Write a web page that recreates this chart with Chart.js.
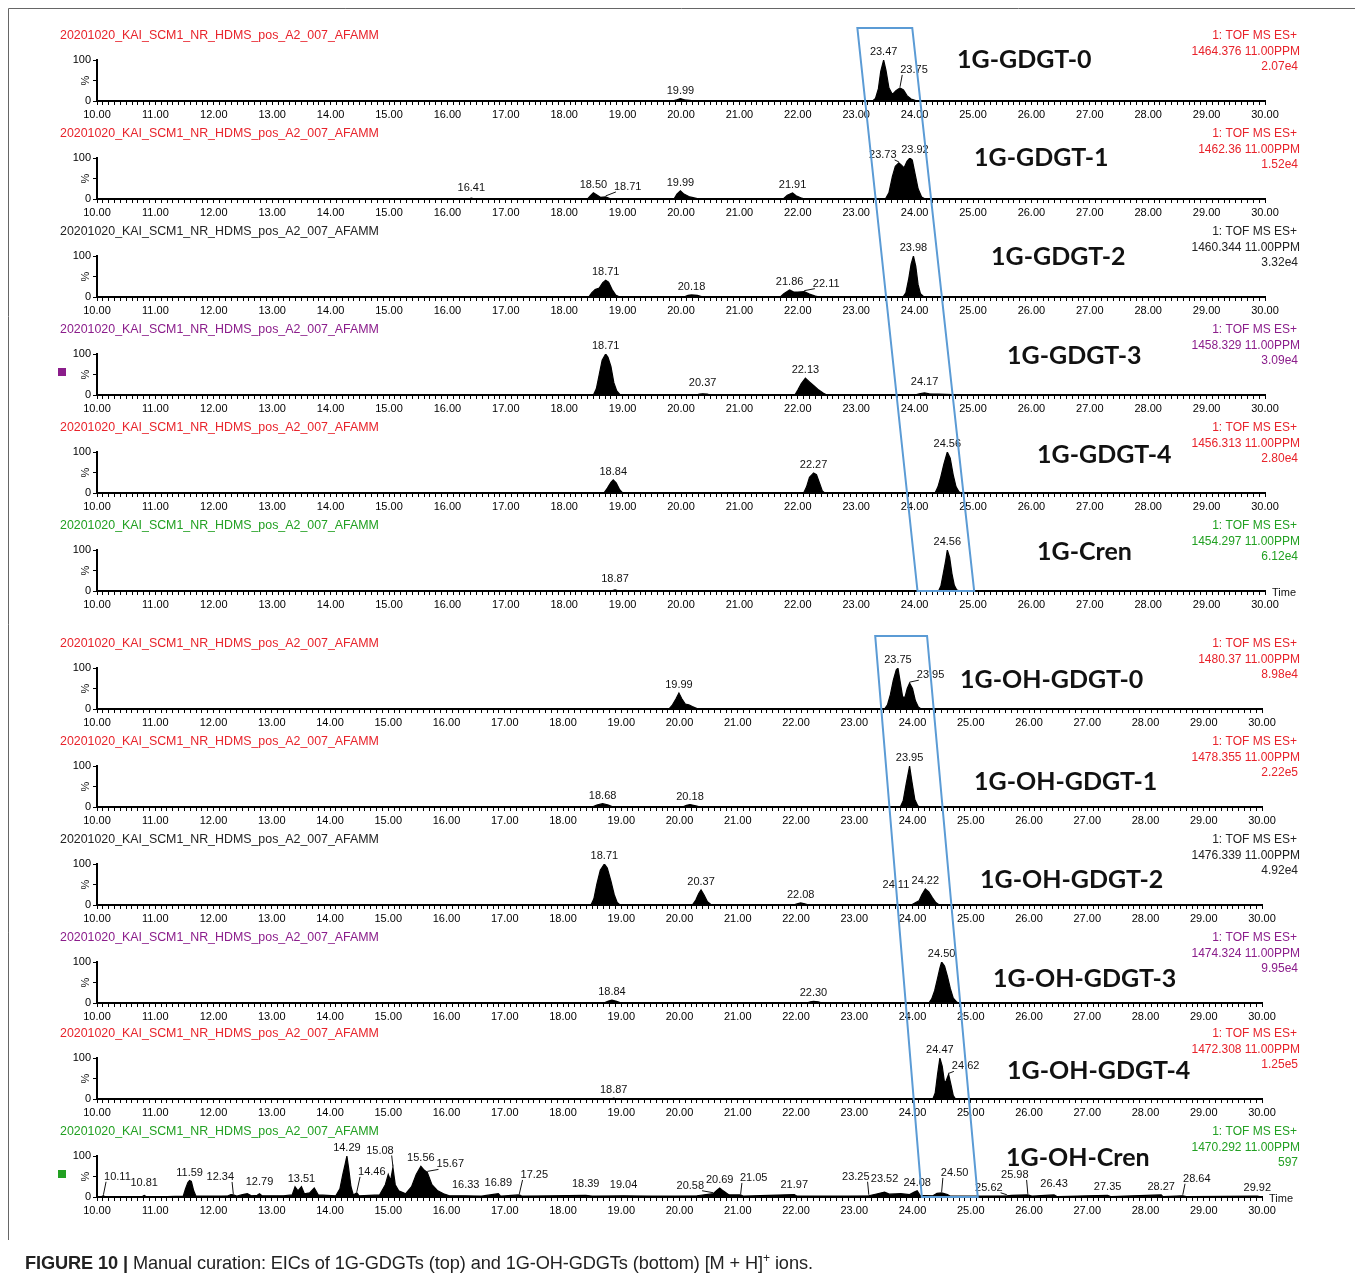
<!DOCTYPE html>
<html><head><meta charset="utf-8">
<script src="https://cdn.jsdelivr.net/npm/chart.js@4/dist/chart.umd.min.js"></script>
<style>
body{margin:0;background:#fff;}
#wrap{position:relative;width:1355px;height:1279px;overflow:hidden;background:#fff;}
canvas.p{position:absolute;left:0;}
#ov{position:absolute;left:0;top:0;pointer-events:none;}
#cap{position:absolute;left:25px;top:1251px;font-family:"Liberation Sans Narrow","Liberation Sans",Arial,sans-serif;font-size:18.2px;color:#222;white-space:nowrap;letter-spacing:-0.1px;}
#cap sup{font-size:12px;}
</style></head>
<body><div id="wrap"><canvas id="ov" width="1355" height="1279"></canvas>
<div id="cap"><b>FIGURE 10 |</b> Manual curation: EICs of 1G-GDGTs (top) and 1G-OH-GDGTs (bottom) [M + H]<sup>+</sup> ions.</div></div>
<script>
// ---------- DATA ----------
const runName = '20201020_KAI_SCM1_NR_HDMS_pos_A2_007_AFAMM';
const compoundNames = ['1G-GDGT-0','1G-GDGT-1','1G-GDGT-2','1G-GDGT-3','1G-GDGT-4','1G-Cren',
  '1G-OH-GDGT-0','1G-OH-GDGT-1','1G-OH-GDGT-2','1G-OH-GDGT-3','1G-OH-GDGT-4','1G-OH-Cren'];
const functionLabel = '1: TOF MS ES+';
const massLabels = ['1464.376 11.00PPM','1462.36 11.00PPM','1460.344 11.00PPM','1458.329 11.00PPM','1456.313 11.00PPM','1454.297 11.00PPM',
  '1480.37 11.00PPM','1478.355 11.00PPM','1476.339 11.00PPM','1474.324 11.00PPM','1472.308 11.00PPM','1470.292 11.00PPM'];
const intensityLabels = ['2.07e4','1.52e4','3.32e4','3.09e4','2.80e4','6.12e4','8.98e4','2.22e5','4.92e4','9.95e4','1.25e5','597'];
const timeRange = [10, 30];

// traces: [retention time (min), relative intensity %]
const gdgt0 = [[10,0],[19.85,0],[19.93,3],[19.99,6],[20.06,3],[20.18,1],[20.3,0],[23.28,0],[23.33,6],[23.38,30],[23.42,72],[23.47,100],[23.51,75],[23.56,32],[23.62,16],[23.68,25],[23.75,32],[23.81,27],[23.87,13],[23.94,5],[24.02,1],[24.1,0],[30,0]];
const gdgt1 = [[10,0],[16.35,0],[16.41,2],[16.47,0],[18.4,0],[18.45,8],[18.5,15],[18.56,10],[18.62,4],[18.71,5],[18.78,1],[18.85,0],[19.88,0],[19.93,12],[19.99,20],[20.05,12],[20.15,5],[20.28,1],[20.35,0],[21.75,0],[21.82,9],[21.91,15],[21.97,8],[22.05,3],[22.12,0],[23.5,0],[23.56,15],[23.62,55],[23.67,80],[23.73,88],[23.78,82],[23.82,76],[23.87,92],[23.92,100],[23.96,95],[24.01,60],[24.06,25],[24.12,5],[24.18,0],[30,0]];
const gdgt2 = [[10,0],[18.42,0],[18.47,10],[18.53,18],[18.6,22],[18.66,35],[18.71,41],[18.76,36],[18.82,18],[18.88,5],[18.95,0],[20.05,0],[20.12,4],[20.18,5],[20.28,4],[20.38,0],[21.7,0],[21.76,8],[21.86,17],[21.93,12],[22.0,12],[22.11,13],[22.2,7],[22.3,2],[22.38,0],[23.8,0],[23.85,10],[23.9,45],[23.94,80],[23.98,100],[24.02,75],[24.06,30],[24.1,8],[24.16,0],[30,0]];
const gdgt3 = [[10,0],[18.5,0],[18.55,15],[18.6,50],[18.65,85],[18.71,100],[18.75,92],[18.8,70],[18.85,30],[18.9,10],[18.96,0],[20.25,0],[20.32,2],[20.37,3],[20.45,2],[20.5,0],[21.95,0],[22.0,12],[22.06,28],[22.13,41],[22.2,32],[22.28,22],[22.36,12],[22.44,4],[22.5,0],[24.0,0],[24.08,3],[24.17,5],[24.25,3],[24.4,2],[24.65,1],[24.7,0],[30,0]];
const gdgt4 = [[10,0],[18.68,0],[18.74,12],[18.8,26],[18.84,32],[18.89,25],[18.95,8],[19.0,0],[22.1,0],[22.15,15],[22.2,38],[22.27,49],[22.32,45],[22.37,25],[22.42,5],[22.46,0],[24.35,0],[24.4,15],[24.45,40],[24.5,70],[24.56,100],[24.61,85],[24.66,45],[24.71,15],[24.76,3],[24.8,0],[30,0]];
const cren = [[10,0],[18.8,0],[18.87,3],[18.94,0],[24.41,0],[24.45,12],[24.49,42],[24.53,72],[24.56,100],[24.6,82],[24.64,42],[24.68,14],[24.72,3],[24.77,0],[30,0]];
const ohGdgt0 = [[10,0],[19.82,0],[19.88,10],[19.94,25],[19.99,39],[20.04,25],[20.1,12],[20.16,10],[20.22,6],[20.3,1],[20.35,0],[23.52,0],[23.57,10],[23.62,35],[23.67,70],[23.72,95],[23.75,100],[23.79,65],[23.83,30],[23.87,28],[23.91,50],[23.95,63],[24.0,50],[24.05,20],[24.1,5],[24.15,0],[30,0]];
const ohGdgt1 = [[10,0],[18.5,0],[18.58,5],[18.68,8],[18.78,5],[18.86,0],[20.05,0],[20.12,4],[20.18,6],[20.28,3],[20.36,0],[23.79,0],[23.84,15],[23.89,55],[23.95,100],[23.99,62],[24.04,18],[24.09,3],[24.13,0],[30,0]];
const ohGdgt2 = [[10,0],[18.48,0],[18.53,15],[18.58,50],[18.64,85],[18.71,100],[18.76,90],[18.82,60],[18.88,25],[18.93,6],[18.98,0],[20.22,0],[20.28,12],[20.33,28],[20.37,37],[20.42,25],[20.48,8],[20.55,0],[21.95,0],[22.02,3],[22.08,5],[22.15,3],[22.22,0],[23.98,0],[24.04,5],[24.11,10],[24.16,25],[24.22,39],[24.28,32],[24.34,18],[24.4,6],[24.46,0],[30,0]];
const ohGdgt3 = [[10,0],[18.7,0],[18.78,5],[18.84,7],[18.92,4],[19.0,0],[22.18,0],[22.25,3],[22.3,4],[22.38,3],[22.45,0],[24.28,0],[24.33,10],[24.38,30],[24.43,60],[24.47,85],[24.5,100],[24.55,90],[24.6,65],[24.65,35],[24.7,12],[24.76,2],[24.8,0],[30,0]];
const ohGdgt4 = [[10,0],[18.82,0],[18.87,2],[18.93,0],[24.35,0],[24.39,15],[24.43,60],[24.47,100],[24.51,80],[24.55,40],[24.58,45],[24.62,60],[24.66,35],[24.7,8],[24.74,0],[30,0]];
const ohCren = [[10,0],[10.08,1],[10.11,3],[10.14,0],[10.5,1],[10.78,1],[10.81,4],[10.84,1],[11.2,1],[11.48,2],[11.52,20],[11.56,35],[11.59,40],[11.62,38],[11.66,15],[11.7,2],[12.0,2],[12.25,3],[12.3,6],[12.34,5],[12.4,2],[12.5,6],[12.58,8],[12.65,3],[12.75,4],[12.79,8],[12.83,3],[13.2,3],[13.35,5],[13.4,25],[13.45,15],[13.51,25],[13.56,8],[13.65,10],[13.73,22],[13.8,5],[14.1,3],[14.17,20],[14.22,55],[14.26,80],[14.29,100],[14.32,70],[14.36,25],[14.4,5],[14.46,10],[14.5,3],[14.85,5],[14.95,30],[15.0,55],[15.04,40],[15.08,72],[15.12,30],[15.18,15],[15.3,8],[15.4,25],[15.48,55],[15.56,75],[15.62,65],[15.67,60],[15.75,30],[15.85,15],[15.95,8],[16.05,3],[16.33,3],[16.6,2],[16.89,8],[16.93,2],[17.25,5],[17.3,2],[17.8,3],[18.39,4],[18.5,2],[19.04,3],[19.5,2],[20.3,3],[20.58,8],[20.63,15],[20.69,22],[20.75,15],[20.85,5],[21.05,5],[21.1,2],[21.97,6],[22.02,2],[22.5,2],[23.25,3],[23.4,8],[23.52,12],[23.6,7],[23.8,8],[23.95,6],[24.03,12],[24.08,15],[24.13,4],[24.35,3],[24.42,9],[24.5,10],[24.6,6],[24.65,2],[25.62,3],[25.7,4],[25.98,5],[26.05,2],[26.43,5],[26.48,1],[27.35,4],[27.4,1],[28.27,5],[28.3,1],[28.64,3],[28.7,1],[29.92,2],[30,0]];
const traces = [gdgt0,gdgt1,gdgt2,gdgt3,gdgt4,cren,ohGdgt0,ohGdgt1,ohGdgt2,ohGdgt3,ohGdgt4,ohCren];

// labelled peak apex times per panel
const peakTimes = [
  [19.99,23.47,23.75],
  [16.41,18.50,18.71,19.99,21.91,23.73,23.92],
  [18.71,20.18,21.86,22.11,23.98],
  [18.71,20.37,22.13,24.17],
  [18.84,22.27,24.56],
  [18.87,24.56],
  [19.99,23.75,23.95],
  [18.68,20.18,23.95],
  [18.71,20.37,22.08,24.11,24.22],
  [18.84,22.30,24.50],
  [18.87,24.47,24.62],
  [10.11,10.81,11.59,12.34,12.79,13.51,14.29,14.46,15.08,15.56,15.67,16.33,16.89,17.25,18.39,19.04,20.58,20.69,21.05,21.97,23.25,23.52,24.08,24.50,25.62,25.98,26.43,27.35,28.27,28.64,29.92]
];
// curation boxes (retention times): [topLeft, topRight, bottomRight, bottomLeft], panels spanned
const curationBoxes = [
  {times:[23.02,23.96,25.02,24.05], from:0, to:5},
  {times:[23.36,24.25,25.12,24.16], from:6, to:11}
];

// ---------- STYLE / LAYOUT ----------
const panelTitleY = [35,133,231,329,427,525,643,741,839,937,1033,1131];
const panelColor = ['#e8232b','#e8232b','#222','#8b1d8b','#e8232b','#22a022','#e8232b','#e8232b','#222','#8b1d8b','#e8232b','#22a022'];
const nameX = [957,974,991,1007,1037,1037,960,974,980,993,1007,1006];
const nameDy = [25,25,26,27,28,27,37,41,41,42,38,27];
const labelNudge = {
 '0|23.75':[14,-10,1],
 '1|16.41':[0,-2],'1|18.71':[22,-2,1],'1|23.73':[-16,0,1],'1|23.92':[5,0],
 '2|22.11':[22,0,1],
 '3|20.37':[0,-3],'3|24.17':[0,-3],
 '5|18.87':[0,-3],
 '6|23.95':[21,0,1],
 '8|24.11':[-23,-8],
 '10|24.62':[17,0,1],
 '11|10.11':[14,-11,1],'11|10.81':[0,-4],'11|12.34':[-13,-10,1],'11|12.79':[0,-4],'11|14.46':[15,-13,1],'11|15.08':[-13,-9,1],
 '11|15.67':[23,0,1],'11|16.33':[0,-3],'11|16.89':[0,-3],'11|17.25':[15,-12,1],'11|18.39':[0,-3],'11|19.04':[0,-3],
 '11|20.58':[-23,0,1],'11|21.05':[13,-9,1],'11|21.97':[0,-2],'11|23.25':[-13,-11,1],'11|23.52':[0,-5],'11|24.50':[13,-12,1],
 '11|25.62':[-18,0,1],'11|25.98':[-13,-12,1],'11|26.43':[0,-3],'11|28.64':[14,-9,1]
};
const FONT = '"Liberation Sans", Arial, sans-serif';
const CANVAS_OFF = 22, CANVAS_H = 112;

function valueAt(tr, t){
  for (let k=1;k<tr.length;k++){
    if (tr[k][0] >= t){
      const a=tr[k-1], b=tr[k];
      if (b[0]===a[0]) return b[1];
      return a[1] + (b[1]-a[1])*(t-a[0])/(b[0]-a[0]);
    }
  }
  return 0;
}

function makePlugin(i){
  return {
    id:'panel'+i,
    afterDraw(chart){
      const ctx = chart.ctx, xs = chart.scales.x, ys = chart.scales.y;
      ctx.save();
      // rotated % on the y axis
      ctx.font = '11px '+FONT; ctx.fillStyle='#111';
      ctx.save(); ctx.translate(chart.chartArea.left-11, ys.getPixelForValue(50)); ctx.rotate(-Math.PI/2);
      ctx.textAlign='center'; ctx.textBaseline='middle'; ctx.fillText('%',0,0); ctx.restore();
      // peak labels
      ctx.strokeStyle='#111'; ctx.lineWidth=1;
      ctx.textAlign='center'; ctx.textBaseline='middle';
      peakTimes[i].forEach(t=>{
        const txt = t.toFixed(2);
        const v = valueAt(traces[i], t);
        const px = xs.getPixelForValue(t), py = ys.getPixelForValue(v);
        const n = labelNudge[i+'|'+txt] || [0,0,0];
        const lx = px + n[0], ly = py - 8 + n[1];
        ctx.fillText(txt, lx, ly);
        if (n[2]){
          const w = ctx.measureText(txt).width;
          const ex = n[0] > 0 ? lx - w/2 + 2 : lx + w/2 - 2;
          ctx.beginPath(); ctx.moveTo(ex, ly+5); ctx.lineTo(px, py-1); ctx.stroke();
        }
      });
      // run name (left) and function/mass/intensity (right)
      ctx.fillStyle = panelColor[i];
      ctx.font = '12.4px '+FONT;
      ctx.textAlign='left'; ctx.fillText(runName, 60, CANVAS_OFF+1);
      ctx.font = '12px '+FONT;
      ctx.textAlign='right';
      ctx.fillText(functionLabel, 1297, CANVAS_OFF+1);
      ctx.fillText(massLabels[i], 1300, CANVAS_OFF+16.5);
      ctx.fillText(intensityLabels[i], 1298, CANVAS_OFF+32);
      // compound name
      ctx.fillStyle='#111'; ctx.textAlign='left';
      ctx.font = 'bold 25px Lato, "Open Sans", sans-serif';
      ctx.fillText(compoundNames[i], nameX[i], CANVAS_OFF + nameDy[i]);
      // coloured square marker
      if (i===3 || i===11){ ctx.fillStyle = panelColor[i]; ctx.fillRect(58, CANVAS_OFF+39, 8, 8); }
      // Time label
      if (i===5 || i===11){
        ctx.fillStyle='#111'; ctx.font='11px '+FONT; ctx.textAlign='left';
        ctx.fillText('Time', chart.chartArea.right+7, chart.chartArea.bottom+2);
      }
      ctx.restore();
    }
  };
}

const wrap = document.getElementById('wrap');
const charts = [];
traces.forEach((tr,i)=>{
  const cv = document.createElement('canvas');
  cv.className='p'; cv.width=1355; cv.height=CANVAS_H;
  cv.style.top = (panelTitleY[i]-CANVAS_OFF)+'px';
  wrap.insertBefore(cv, document.getElementById('ov'));
  const ch = new Chart(cv, {
    type:'line',
    data:{datasets:[{data: tr.map(p=>({x:p[0], y:p[1]})), borderColor:'#000', backgroundColor:'#000',
      borderWidth:1.2, fill:'origin', pointRadius:0, tension:0}]},
    options:{
      responsive:false, animation:false, events:[],
      layout:{padding:{left:0, right: i<6 ? 90 : 93, top:47, bottom:0}},
      plugins:{legend:{display:false}, tooltip:{enabled:false}},
      scales:{
        x:{type:'linear', min:timeRange[0], max:timeRange[1],
          afterFit:s=>{s.height=CANVAS_H-47-41;},
          border:{color:'#000', width:2},
          grid:{drawOnChartArea:false, drawTicks:true, tickLength:4, color:'#000', lineWidth:1},
          ticks:{stepSize:0.1, autoSkip:false, maxRotation:0, minRotation:0, padding:3, color:'#000',
            font:{family:FONT, size:11},
            callback:v=> Math.abs(v-Math.round(v))<1e-6 ? Number(v).toFixed(2) : ''}},
        y:{min:0, max:100, afterFit:s=>{s.width=97;},
          border:{color:'#000', width:2},
          grid:{drawOnChartArea:false, tickLength:4, color:'#000'},
          ticks:{stepSize:50, padding:2, color:'#000', font:{family:FONT, size:11},
            callback:v=> v===50 ? '' : String(v)}}
      }
    },
    plugins:[makePlugin(i)]
  });
  charts.push(ch);
});

// overlay: frame and curation boxes
const ov = document.getElementById('ov');
const octx = ov.getContext('2d');
octx.strokeStyle='#666'; octx.lineWidth=1;
octx.beginPath(); octx.moveTo(8.5,1240); octx.lineTo(8.5,8.5); octx.lineTo(1355,8.5); octx.stroke();
octx.strokeStyle='#5b9bd5'; octx.lineWidth=2;
curationBoxes.forEach(b=>{
  const cTop = charts[b.from], cBot = charts[b.to];
  const offTop = panelTitleY[b.from]-CANVAS_OFF, offBot = panelTitleY[b.to]-CANVAS_OFF;
  const yTop = cTop.scales.y.getPixelForValue(100) + offTop - 32;
  const yBot = cBot.scales.y.getPixelForValue(0) + offBot;
  const pts = [
    [cTop.scales.x.getPixelForValue(b.times[0]), yTop],
    [cTop.scales.x.getPixelForValue(b.times[1]), yTop],
    [cBot.scales.x.getPixelForValue(b.times[2]), yBot],
    [cBot.scales.x.getPixelForValue(b.times[3]), yBot]
  ];
  octx.beginPath(); octx.moveTo(pts[0][0],pts[0][1]);
  for (let k=1;k<4;k++) octx.lineTo(pts[k][0],pts[k][1]);
  octx.closePath(); octx.stroke();
});
</script></body></html>
